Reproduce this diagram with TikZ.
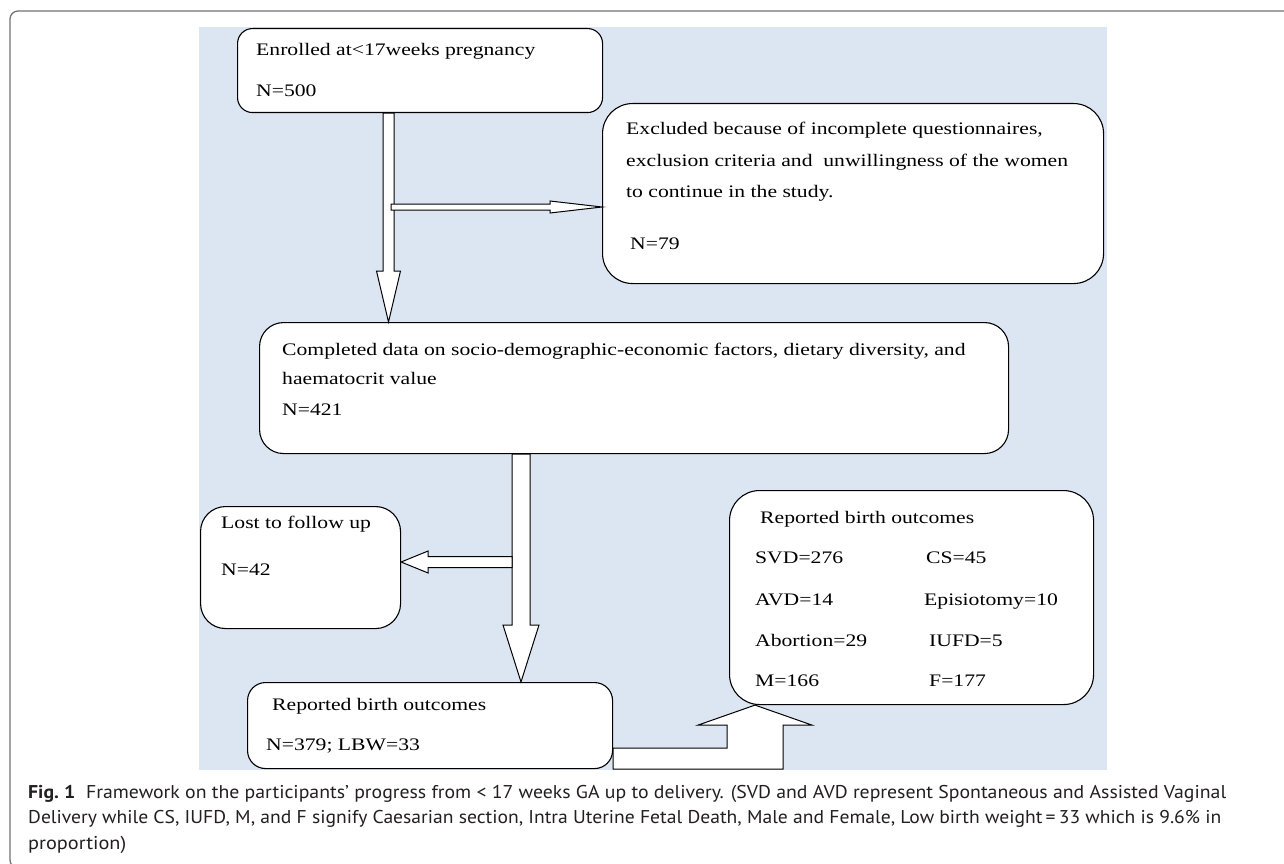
\documentclass[tikz,border=0pt]{standalone}
\usepackage{fontspec}
\setmainfont{Liberation Serif}
\newfontfamily\diagfont[FakeStretch=1.23]{Liberation Serif}
\newfontfamily\capfont{PT Sans}
\usetikzlibrary{calc}
\definecolor{bgblue}{RGB}{220,230,242}
\definecolor{framegray}{RGB}{115,115,115}
\definecolor{captext}{RGB}{35,31,32}
\newcommand\downblock[5]{%
  \draw[blk] let \p1=(#1), \p2=(#2) in
    (\x1-#3,\y1) -- (\x1-#3,\y2+#5) -- (\x1-#4,\y2+#5) -- (\x1,\y2) --
    (\x1+#4,\y2+#5) -- (\x1+#3,\y2+#5) -- (\x1+#3,\y1) -- cycle;}
\newcommand\rightblock[5]{%
  \draw[blk] let \p1=(#1), \p2=(#2) in
    (\x1,\y1+#3) -- (\x2-#5,\y1+#3) -- (\x2-#5,\y1+#4) -- (\x2,\y1) --
    (\x2-#5,\y1-#4) -- (\x2-#5,\y1-#3) -- (\x1,\y1-#3) -- cycle;}
\newcommand\leftblock[5]{%
  \draw[blk] let \p1=(#1), \p2=(#2) in
    (\x1,\y1+#3) -- (\x2+#5,\y1+#3) -- (\x2+#5,\y1+#4) -- (\x2,\y1) --
    (\x2+#5,\y1-#4) -- (\x2+#5,\y1-#3) -- (\x1,\y1-#3) -- cycle;}
\begin{document}
\begin{tikzpicture}[x=1pt,y=-1pt,
  box/.style={draw=black, line width=1.1pt, fill=white, anchor=north west, inner sep=0pt},
  txt/.style={anchor=base west, inner sep=0pt, font=\diagfont\fontsize{17.6}{20}\selectfont},
  captxt/.style={anchor=base west, inner sep=0pt, font=\capfont\fontsize{18.5}{22}\selectfont, text=captext},
  blk/.style={draw=black, line width=1pt, fill=white, line join=miter}]
\useasboundingbox (0,0) rectangle (1284,864);
\fill[white] (0,0) rectangle (1284,864);
% outer frame
\draw[framegray, line width=1.3pt, rounded corners=8pt] (10,11) rectangle (1300,868);
% background panel
\fill[bgblue] (199,27) rectangle (1107,770);
% boxes
\node[box, rounded corners=15pt, minimum width=365pt, minimum height=84pt] (b1) at (237,28) {};
\node[box, rounded corners=30pt, minimum width=501pt, minimum height=180pt] (b2) at (602,103) {};
\node[box, rounded corners=24pt, minimum width=749pt, minimum height=131pt] (b3) at (259,322) {};
\node[box, rounded corners=25pt, minimum width=200pt, minimum height=122pt] (lost) at (200,506) {};
\node[box, rounded corners=18pt, minimum width=365pt, minimum height=86pt] (b5) at (247,682) {};
\node[box, rounded corners=30pt, minimum width=364pt, minimum height=214pt] (b6) at (729,490) {};
% texts
\node[txt] (t1a) at (256,56) {Enrolled at<17weeks pregnancy};
\node[txt] (t1b) at (256,97) {N=500};
\node[txt] (t2a) at (626,135) {Excluded because of incomplete questionnaires,};
\node[txt] (t2b) at (626,166) {exclusion criteria and\ \ unwillingness of the women};
\node[txt] (t2c) at (626,197) {to continue in the study.};
\node[txt] (t2d) at (630,249) {N=79};
\node[txt] (t3a) at (282,355) {Completed data on socio-demographic-economic factors, dietary diversity, and};
\node[txt] (t3b) at (282,384) {haematocrit value};
\node[txt] (t3c) at (282,415) {N=421};
\node[txt] (t4a) at (221,528) {Lost to follow up};
\node[txt] (t4b) at (221,575) {N=42};
\node[txt] (t5a) at (272,710) {Reported birth outcomes};
\node[txt] (t5b) at (266,750) {N=379; LBW=33};
\node[txt] (t6a) at (760,523) {Reported birth outcomes};
\node[txt] (t6b) at (755,563) {SVD=276};
\node[txt] (t6c) at (926,563) {CS=45};
\node[txt] (t6d) at (755,605) {AVD=14};
\node[txt] (t6e) at (924,605) {Episiotomy=10};
\node[txt] (t6f) at (755,646) {Abortion=29};
\node[txt] (t6g) at (929,646) {IUFD=5};
\node[txt] (t6h) at (755,686) {M=166};
\node[txt] (t6i) at (929,686) {F=177};
% arrow anchors
\coordinate (c1) at (388.5,0);
\coordinate (c2) at (391,207);
\coordinate (c3) at (512,562);
\coordinate (c4) at (521,0);
\coordinate (c5) at (755,0);
% arrows
\downblock{c1 |- b1.south}{c1 |- b3.north}{5.5pt}{12pt}{51pt}
\rightblock{c2}{c2 -| b2.west}{3pt}{6pt}{52pt}
\downblock{c4 |- b3.south}{c4 |- b5.north}{9pt}{18pt}{57pt}
\leftblock{c3}{c3 -| lost.east}{5.5pt}{11pt}{27pt}
\draw[blk] let \p1=(b5.south east), \p2=(c5 |- b6.south) in
  (\x1,\y1+21pt) -- (\x2-28pt,\y1+21pt) -- (\x2-28pt,\y2-20pt) -- (\x2-57pt,\y2-20pt) --
  (\x2,\y2) -- (\x2+57pt,\y2-20pt) -- (\x2+28pt,\y2-20pt) -- (\x2+28pt,\y1) -- (\x1,\y1) -- cycle;
% caption
\node[captxt] (cap1) at (28,798) {\resizebox{1198pt}{\height}{\textbf{Fig.~1}\hspace{0.55em}Framework on the participants’ progress from < 17 weeks GA up to delivery. (SVD and AVD represent Spontaneous and Assisted Vaginal}};
\node[captxt] (cap2) at (28,823) {\resizebox{1193pt}{\height}{Delivery while CS, IUFD, M, and F signify Caesarian section, Intra Uterine Fetal Death, Male and Female, Low birth weight\,=\,33 which is 9.6\% in}};
\node[captxt] (cap3) at (28,849) {\resizebox{98pt}{\height}{proportion)}};
\end{tikzpicture}
\end{document}
